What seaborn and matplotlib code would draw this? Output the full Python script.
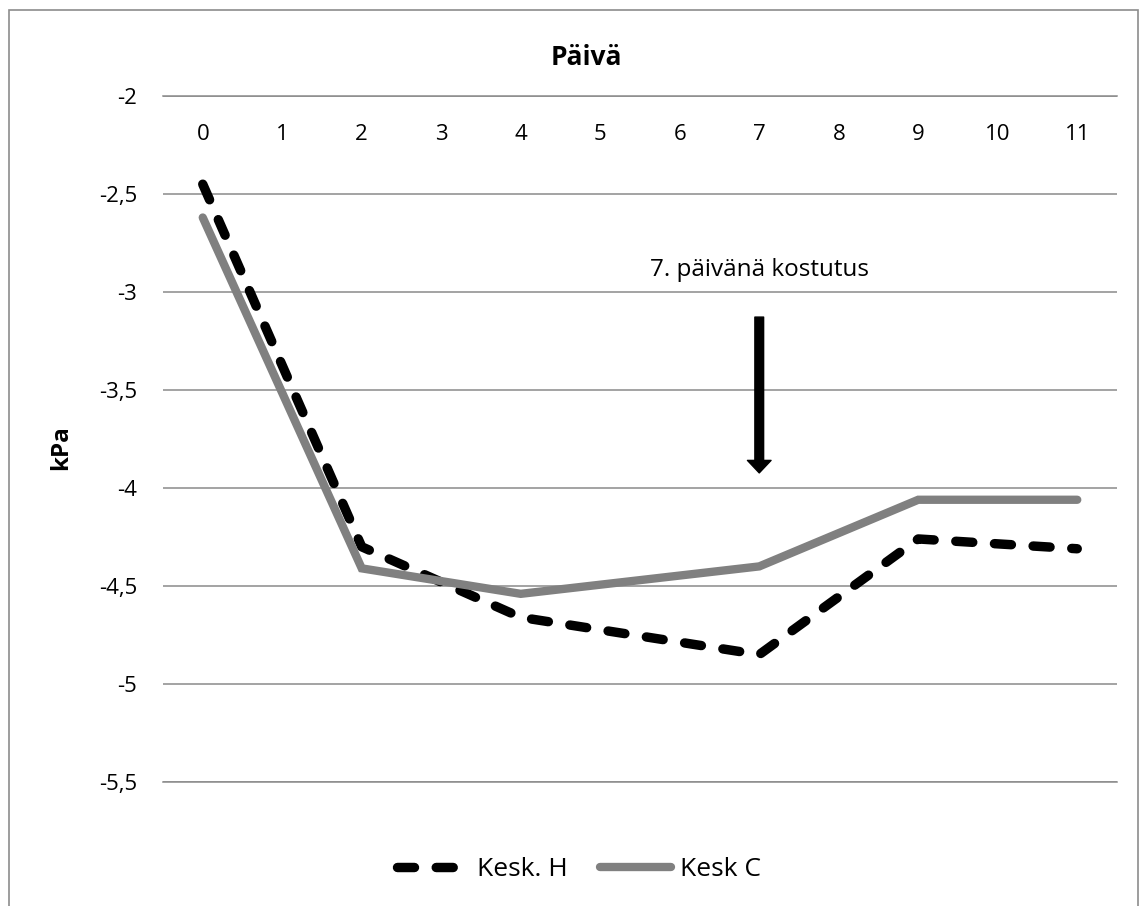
import numpy as np
import pandas as pd
import matplotlib
matplotlib.use("Agg")
import matplotlib.pyplot as plt
from matplotlib.patches import Rectangle
import seaborn as sns

# ---- data ----
days = [0, 2, 4, 7, 9, 11]
kesk_H = [-2.45, -4.30, -4.66, -4.85, -4.26, -4.31]
kesk_C = [-2.62, -4.41, -4.54, -4.40, -4.06, -4.06]
series_names = ["Kesk. H", "Kesk C"]
x_categories = list(range(12))
x_tick_labels = [str(d) for d in x_categories]
y_ticks = [-2.0, -2.5, -3.0, -3.5, -4.0, -4.5, -5.0, -5.5]
y_tick_labels = ["-2", "-2,5", "-3", "-3,5", "-4", "-4,5", "-5", "-5,5"]
title_text = "Päivä"
y_label = "kPa"
note_text = "7. päivänä kostutus"
note_day = 7

df = pd.DataFrame({
    "Päivä": days + days,
    "kPa": kesk_H + kesk_C,
    "sarja": [series_names[0]] * len(days) + [series_names[1]] * len(days),
})

sns.set_style("white")
plt.rcParams["font.family"] = ["Open Sans", "DejaVu Sans"]
plt.rcParams["text.color"] = "black"
plt.rcParams["axes.labelcolor"] = "black"

W, H = 1143, 906
fig = plt.figure(figsize=(W / 100, H / 100), dpi=100)
ax = fig.add_axes([163 / W, 1 - 782 / H, (1117 - 163) / W, (782 - 96) / H])

sns.lineplot(
    data=df, x="Päivä", y="kPa", hue="sarja", style="sarja",
    hue_order=series_names, style_order=series_names,
    palette={series_names[0]: "#000000", series_names[1]: "#808080"},
    dashes={series_names[0]: (1.8, 2.3), series_names[1]: ""},
    linewidth=6, legend=False, ax=ax,
)
lws = [6.8, 6.0]
for line, lw in zip(ax.lines, lws):
    line.set_linewidth(lw)
    line.set_dash_capstyle("round")
    line.set_solid_capstyle("round")
    line.set_solid_joinstyle("miter")
    line.set_dash_joinstyle("round")

ax.set_xlim(-0.5, 11.5)
ax.set_ylim(-5.5, -2.0)
ax.set_xticks(x_categories)
ax.set_xticklabels(x_tick_labels)
ax.set_yticks(y_ticks)
ax.set_yticklabels(y_tick_labels)
ax.xaxis.tick_top()
ax.tick_params(axis="x", length=0, pad=-35, labelsize=16, labelcolor="black")
ax.tick_params(axis="y", length=0, pad=18.7, labelsize=16, labelcolor="black")
ax.set_xlabel("")
ax.set_ylabel(y_label, fontsize=17.5, fontweight="bold", color="black")
ax.yaxis.set_label_coords(-0.0943, 0.488)

ax.grid(axis="y", color="#8a8a8a", linewidth=1.1)
ax.grid(axis="x", visible=False)
for s in ["left", "right"]:
    ax.spines[s].set_visible(False)
for s in ["top", "bottom"]:
    ax.spines[s].set_color("#8a8a8a")
    ax.spines[s].set_linewidth(1.1)
ax.set_axisbelow(True)

# annotation
ax.text(note_day, -2.917, note_text, ha="center", va="baseline",
        fontsize=17.5, color="black")
ax.annotate("", xy=(note_day, -3.923), xytext=(note_day, -3.128),
            arrowprops=dict(facecolor="black", edgecolor="black",
                            width=6.3, headwidth=17, headlength=9, shrink=0))

# title
fig.text(586 / W, 1 - 65 / H, title_text, ha="center", va="baseline",
         fontsize=19, fontweight="bold", color="black")

# legend
leg = fig.legend(handles=ax.lines, labels=series_names, loc="center",
                 bbox_to_anchor=(579 / W, 1 - 870 / H), ncol=2, frameon=False,
                 fontsize=19, handlelength=2.7, handletextpad=0.35,
                 columnspacing=1.2)
for t in leg.get_texts():
    t.set_color("black")

# chart border
fig.patches.append(Rectangle((8.5 / W, -0.02), (1138 - 8.5) / W, 1.02 - 9.5 / H,
                             transform=fig.transFigure, fill=False,
                             edgecolor="#8c8c8c", linewidth=1.2))

fig.savefig("out.png", dpi=100)
